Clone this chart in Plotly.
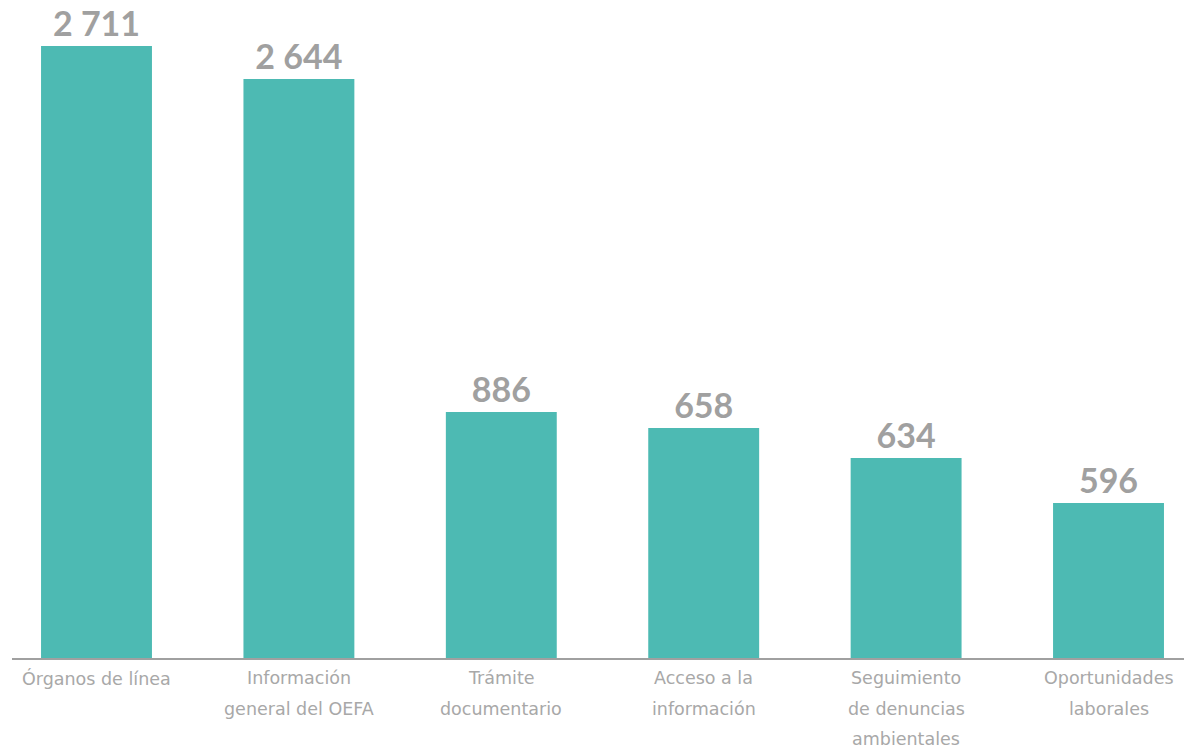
import plotly.graph_objects as go

# Categorías (cada línea de la etiqueta por separado)
categorias = [
    ["Órganos de línea"],
    ["Información", "general del OEFA"],
    ["Trámite", "documentario"],
    ["Acceso a la", "información"],
    ["Seguimiento", "de denuncias", "ambientales"],
    ["Oportunidades", "laborales"],
]
# Valores rotulados sobre cada barra
valores = [2711, 2644, 886, 658, 634, 596]
# Altura dibujada de cada barra (el gráfico original no está a escala)
altura_barras = [2711, 2565, 1090, 1019, 886, 687]

x_pos = list(range(len(categorias)))
etiquetas = [f"{v:,}".replace(",", " ") for v in valores]

BAR_COLOR = "#4DBAB3"
VAL_COLOR = "#A0A0A0"
TICK_COLOR = "#A8A8A8"

fig = go.Figure()
fig.add_trace(go.Bar(
    x=x_pos,
    y=altura_barras,
    width=0.548,
    marker=dict(color=BAR_COLOR, line=dict(width=0)),
    text=etiquetas,
    textposition="outside",
    textfont=dict(family="Lato", size=34, color=VAL_COLOR),
    texttemplate="<b>%{text}</b>",
    constraintext="none",
    cliponaxis=False,
    hoverinfo="skip",
))

annotations = []
line_shifts = [-20, -51, -81]
for i, lines in enumerate(categorias):
    for j, ln in enumerate(lines):
        annotations.append(dict(
            x=i, y=0, xref="x", yref="paper",
            text=ln, showarrow=False,
            xanchor="center", yanchor="middle",
            yshift=line_shifts[j],
            font=dict(family="DejaVu Sans", size=17.5, color=TICK_COLOR),
        ))

fig.update_layout(
    width=1192, height=750,
    margin=dict(l=4, r=8, t=12, b=100),
    paper_bgcolor="white", plot_bgcolor="white",
    showlegend=False,
    annotations=annotations,
    xaxis=dict(
        range=[-0.4175, 5.4125],
        showticklabels=False, ticks="",
        showgrid=False, zeroline=False,
        showline=True, linecolor="#A0A0A0", linewidth=2,
        fixedrange=True,
    ),
    yaxis=dict(
        range=[0, 2826],
        visible=False, showgrid=False, zeroline=False,
        fixedrange=True,
    ),
)

fig.write_html("out.html")
